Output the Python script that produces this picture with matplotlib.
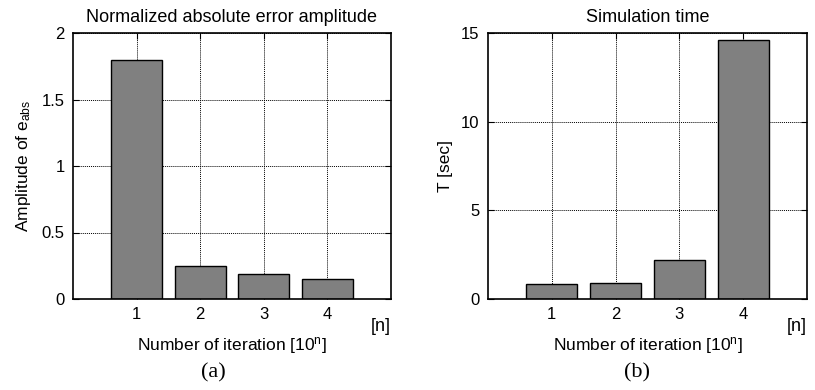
import matplotlib.pyplot as plt
import numpy as np

plt.rcParams['font.family'] = ['Liberation Sans', 'DejaVu Sans']
plt.rcParams['mathtext.fontset'] = 'custom'
plt.rcParams['mathtext.rm'] = 'Liberation Sans'
plt.rcParams['mathtext.it'] = 'Liberation Sans'

# data
iterations = [1, 2, 3, 4]
error_amp = [1.8, 0.25, 0.19, 0.15]
sim_time = [0.83, 0.9, 2.2, 14.6]


def draw_panel(ax, values, yticks, ylabel, title):
    ax.bar(iterations, values, width=0.8, color='#808080',
           edgecolor='black', linewidth=1.0, zorder=2)
    ax.set_xlim(0, 5)
    ax.set_ylim(yticks[0], yticks[-1])
    ax.set_xticks(iterations)
    ax.set_yticks(yticks)
    ax.set_yticklabels([f"{t:g}" for t in yticks])
    ax.set_axisbelow(True)
    ax.grid(True, color='black', linestyle=(0, (1, 1)), linewidth=0.7)
    ax.tick_params(direction='in', top=True, right=True, length=4,
                   labelsize=12, pad=6)
    for s in ax.spines.values():
        s.set_linewidth(1.2)
    ax.set_title(title, fontsize=13, pad=8)
    ax.set_ylabel(ylabel, fontsize=12.5, labelpad=6)
    ax.set_xlabel(r"Number of iteration [10$^{\mathregular{n}}$]", fontsize=12.5, labelpad=9)
    ax.text(1.0, -0.07, "[n]", transform=ax.transAxes, ha='right',
            va='top', fontsize=13)


fig = plt.figure(figsize=(8.15, 3.9), dpi=100)
ax1 = fig.add_axes([73 / 815, 1 - 299 / 390, 318 / 815, 266 / 390])
ax2 = fig.add_axes([488 / 815, 1 - 299 / 390, 319 / 815, 266 / 390])

draw_panel(ax1, error_amp, [0, 0.5, 1, 1.5, 2],
           r"Amplitude of e$_{\mathregular{abs}}$",
           "Normalized absolute error amplitude")
draw_panel(ax2, sim_time, [0, 5, 10, 15], "T [sec]", "Simulation time")

fig.text(213 / 815, 1 - 373 / 390, "(a)", ha='center', va='center',
         fontsize=16, family='Liberation Serif')
fig.text(637 / 815, 1 - 373 / 390, "(b)", ha='center', va='center',
         fontsize=16, family='Liberation Serif')

fig.savefig("out.png", dpi=100)
